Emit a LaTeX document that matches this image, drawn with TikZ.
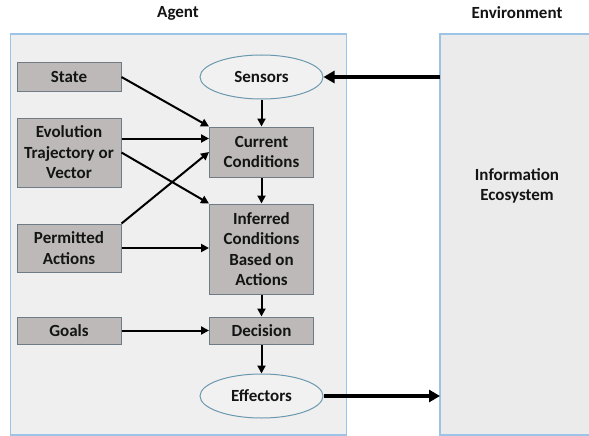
\documentclass[tikz,border=0pt]{standalone}
\usepackage{fontspec}
\setmainfont{Carlito}
\usetikzlibrary{arrows.meta,shapes.geometric}
\definecolor{panelfill}{HTML}{EFEFEF}
\definecolor{envfill}{HTML}{EBEBEB}
\definecolor{panelline}{HTML}{9DC3E6}
\definecolor{boxfill}{HTML}{BDB9B9}
\definecolor{boxline}{HTML}{6F7C86}
\definecolor{ovalfill}{HTML}{F1F1F1}
\definecolor{ovalline}{HTML}{6A98AE}
\begin{document}
\begin{tikzpicture}[x=1pt,y=-1pt,
  txt/.style={font=\fontsize{17}{20.5}\selectfont\bfseries, text=black!92, align=center},
  panel/.style={draw=panelline, line width=1.2pt},
  stepbox/.style={txt, draw=boxline, fill=boxfill, line width=1pt, minimum width=104pt, inner sep=0pt},
  oval/.style={txt, ellipse, draw=ovalline, fill=ovalfill, line width=1pt, minimum width=123pt, minimum height=44pt, inner sep=0pt},
  flow/.style={line width=2pt, -{Triangle[length=8pt,width=8pt]}},
  bigflow/.style={line width=4pt, -{Triangle[length=11pt,width=12pt]}}]
  \useasboundingbox (0,0) rectangle (589,436);
  \fill[white] (0,0) rectangle (589,436);

  % panels
  \draw[panel, fill=panelfill] (10.5,34) rectangle (346.5,435);
  \draw[panel, fill=envfill] (440,34) rectangle (600,435);
  \node[txt] (agentttl) at (178,13) {Agent};
  \node[txt] (envttl) at (517,13) {Environment};
  \node[txt] (eco) at (517,186) {Information\\Ecosystem};
  \coordinate (envin) at (440,77);
  \coordinate (envout) at (440,396);

  % left column
  \node[stepbox, minimum height=28pt] (state) at (69,77) {State};
  \node[stepbox, minimum height=69pt] (evo) at (69,152.5) {Evolution\\Trajectory or\\Vector};
  \node[stepbox, minimum height=48pt] (perm) at (69,248) {Permitted\\Actions};
  \node[stepbox, minimum height=27pt] (goals) at (69,330.5) {Goals};

  % central column
  \node[oval] (sens) at (261.5,77) {Sensors};
  \node[stepbox, minimum height=50pt] (cur) at (261.5,152) {Current\\Conditions};
  \node[stepbox, minimum height=90pt] (inf) at (261.5,249) {Inferred\\Conditions\\Based on\\Actions};
  \node[stepbox, minimum height=27pt] (dec) at (261.5,330.5) {Decision};
  \node[oval] (eff) at (261.5,396) {Effectors};

  % connectors
  \draw[bigflow] (envin) -- (sens.east);
  \draw[bigflow] (eff.east) -- (envout);
  \draw[flow] (sens.south) -- (cur.north);
  \draw[flow] (cur.south) -- (inf.north);
  \draw[flow] (inf.south) -- (dec.north);
  \draw[flow] (dec.south) -- (eff.north);
  \draw[flow] (state.east) -- (cur.north west);
  \draw[flow] ([yshift=14pt]evo.east) -- ([yshift=14pt]evo.east -| cur.west);
  \draw[flow] (evo.east) -- (inf.north west);
  \draw[flow] (perm.north east) -- (cur.west);
  \draw[flow] (perm.east) -- (perm.east -| inf.west);
  \draw[flow] (goals.east) -- (dec.west);
\end{tikzpicture}
\end{document}
